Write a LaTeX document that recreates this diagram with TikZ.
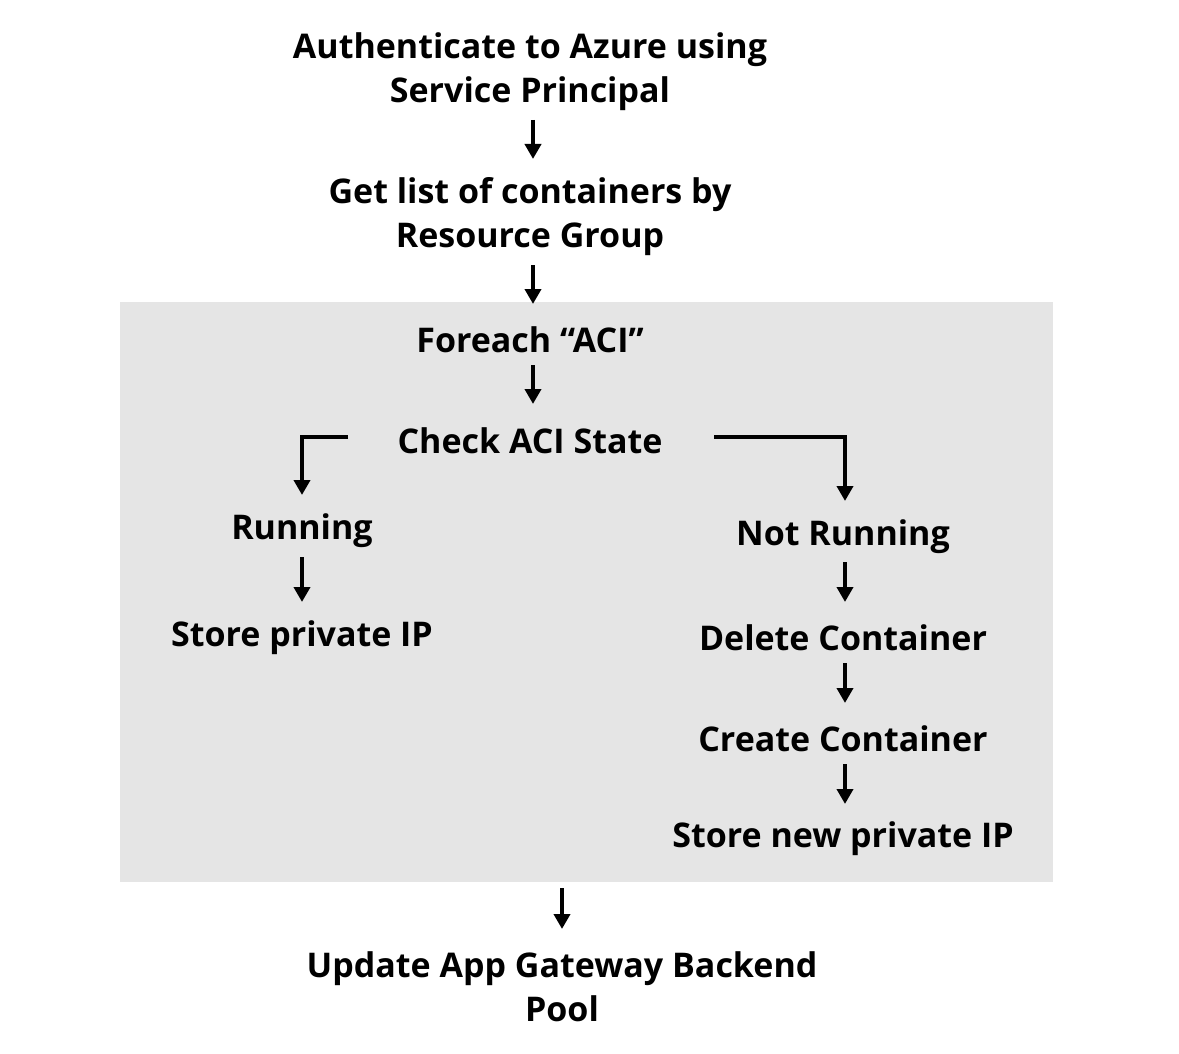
\documentclass[tikz,border=0pt]{standalone}
\usepackage{fontspec}
\setmainfont{Open Sans}
\usetikzlibrary{arrows.meta}
\definecolor{boxgray}{RGB}{229,229,229}
\tikzset{
  lbl/.style={font=\fontsize{34}{44}\selectfont\bfseries, align=center, inner sep=0pt},
  arr/.style={line width=4.5pt, -{Triangle[width=16pt,length=15pt]}},
}
\begin{document}
\begin{tikzpicture}[x=1pt,y=-1pt]
\useasboundingbox (0,0) rectangle (1179,1054);
\fill[boxgray] (120,302) rectangle (1053,882);
\node[lbl] (auth) at (530,72) {Authenticate to Azure using\\Service Principal};
\node[lbl] (list) at (530,217) {Get list of containers by\\Resource Group};
\node[lbl] (fore) at (530,340) {Foreach “ACI”};
\node[lbl] (check) at (530,441) {Check ACI State};
\node[lbl] (run) at (302,531) {Running};
\node[lbl] (store) at (302,638) {Store private IP};
\node[lbl] (notrun) at (843,537) {Not Running};
\node[lbl] (del) at (843,638) {Delete Container};
\node[lbl] (create) at (843,739) {Create Container};
\node[lbl] (newip) at (843,839) {Store new private IP};
\node[lbl] (upd) at (562,987) {Update App Gateway Backend\\Pool};
\coordinate (a1s) at (533,120); \coordinate (a1e) at (533,159);
\coordinate (a2s) at (533,265); \coordinate (a2e) at (533,304);
\coordinate (a3s) at (533,365); \coordinate (a3e) at (533,404);
\coordinate (ls) at (348,437); \coordinate (le) at (302,495);
\coordinate (rs) at (714,437); \coordinate (re) at (845,501);
\coordinate (r1s) at (302,557); \coordinate (r1e) at (302,602);
\coordinate (n1s) at (845,562); \coordinate (n1e) at (845,602);
\coordinate (n2s) at (845,663); \coordinate (n2e) at (845,703);
\coordinate (n3s) at (845,764); \coordinate (n3e) at (845,804);
\coordinate (us) at (562,888); \coordinate (ue) at (562,929);
\draw[arr] (a1s) -- (a1e);
\draw[arr] (a2s) -- (a2e);
\draw[arr] (a3s) -- (a3e);
\draw[arr] (ls) -| (le);
\draw[arr] (rs) -| (re);
\draw[arr] (r1s) -- (r1e);
\draw[arr] (n1s) -- (n1e);
\draw[arr] (n2s) -- (n2e);
\draw[arr] (n3s) -- (n3e);
\draw[arr] (us) -- (ue);
\end{tikzpicture}
\end{document}
